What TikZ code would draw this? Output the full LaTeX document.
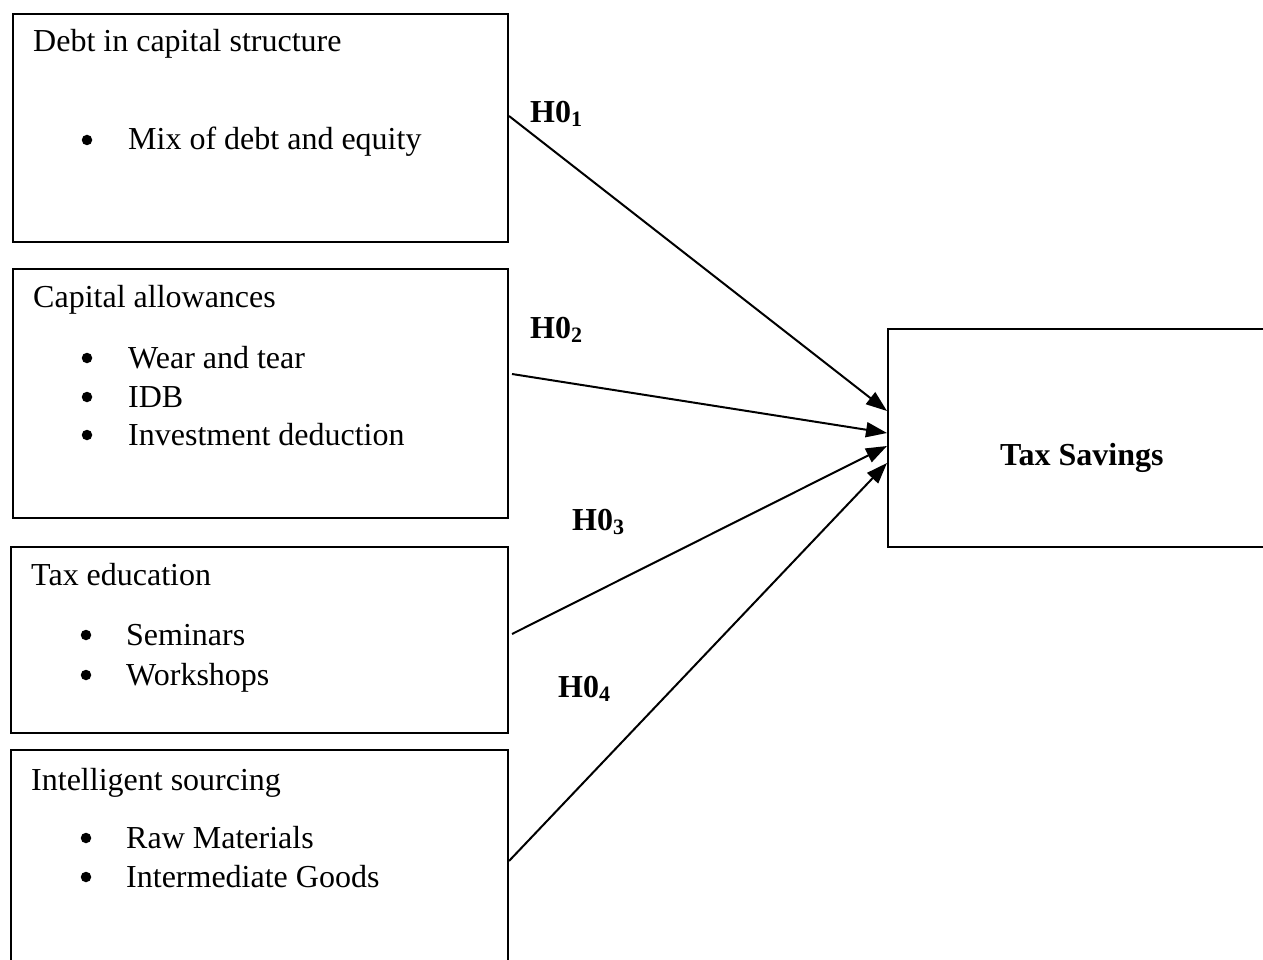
\documentclass[tikz,border=0pt]{standalone}
\usepackage{fontspec}
\setmainfont{Liberation Serif}
\usetikzlibrary{arrows.meta}
\tikzset{
  box/.style={draw, line width=2pt, inner sep=0pt, anchor=north west},
  txt/.style={anchor=base west, inner sep=0pt, font=\fontsize{32}{38}\selectfont},
  bul/.style={circle, fill, inner sep=0pt, minimum size=10.5pt, yshift=10pt},
  hyp/.style={anchor=base west, inner sep=0pt, font=\fontsize{32}{38}\selectfont\bfseries},
  arr/.style={line width=2pt, -{Triangle[length=21pt,width=15pt]}}
}
\newcommand{\hsub}[1]{H0\raisebox{-4pt}{\fontsize{22}{22}\selectfont #1}}
\begin{document}
\begin{tikzpicture}[x=1pt,y=-1pt]
\clip (0,0) rectangle (1263,960);
\fill[white] (0,0) rectangle (1263,960);
% boxes
\node[box, minimum width=495pt, minimum height=228pt] (b1) at (12,13) {};
\node[box, minimum width=495pt, minimum height=249pt] (b2) at (12,268) {};
\node[box, minimum width=497pt, minimum height=186pt] (b3) at (10,546) {};
\node[box, minimum width=497pt, minimum height=231pt] (b4) at (10,749) {};
\node[box, minimum width=400pt, minimum height=218pt] (tax) at (887,328) {};
% texts box 1
\node[txt] (t1) at (33,52) {Debt in capital structure};
\node[bul] (u11) at (87,150) {};
\node[txt] (t11) at (128,150) {Mix of debt and equity};
% box 2
\node[txt] (t2) at (33,307) {Capital allowances};
\node[bul] (u21) at (87,368) {};
\node[txt] (t21) at (128,368) {Wear and tear};
\node[bul] (u22) at (87,407) {};
\node[txt] (t22) at (128,407) {IDB};
\node[bul] (u23) at (87,445) {};
\node[txt] (t23) at (128,445) {Investment deduction};
% box 3
\node[txt] (t3) at (31,585) {Tax education};
\node[bul] (u31) at (86,645) {};
\node[txt] (t31) at (126,645) {Seminars};
\node[bul] (u32) at (86,685) {};
\node[txt] (t32) at (126,685) {Workshops};
% box 4
\node[txt] (t4) at (31,790) {Intelligent sourcing};
\node[bul] (u41) at (86,848) {};
\node[txt] (t41) at (126,848) {Raw Materials};
\node[bul] (u42) at (86,887) {};
\node[txt] (t42) at (126,887) {Intermediate Goods};
% tax savings
\node[hyp] (ts) at (1000,465) {Tax Savings};
% hypothesis labels
\node[hyp] (h1) at (530,123) {\hsub{1}};
\node[hyp] (h2) at (530,338) {\hsub{2}};
\node[hyp] (h3) at (572,530) {\hsub{3}};
\node[hyp] (h4) at (558,697) {\hsub{4}};
% arrows
\draw[arr] ([yshift=12pt]b1.east) -- ([yshift=27pt]tax.west);
\draw[arr] ([xshift=3pt,yshift=19.5pt]b2.east) -- ([yshift=5pt]tax.west);
\draw[arr] ([xshift=3pt,yshift=6pt]b3.east) -- ([yshift=-8pt]tax.west);
\draw[arr] ([yshift=4.5pt]b4.east) -- ([yshift=-25pt]tax.west);
\end{tikzpicture}
\end{document}
